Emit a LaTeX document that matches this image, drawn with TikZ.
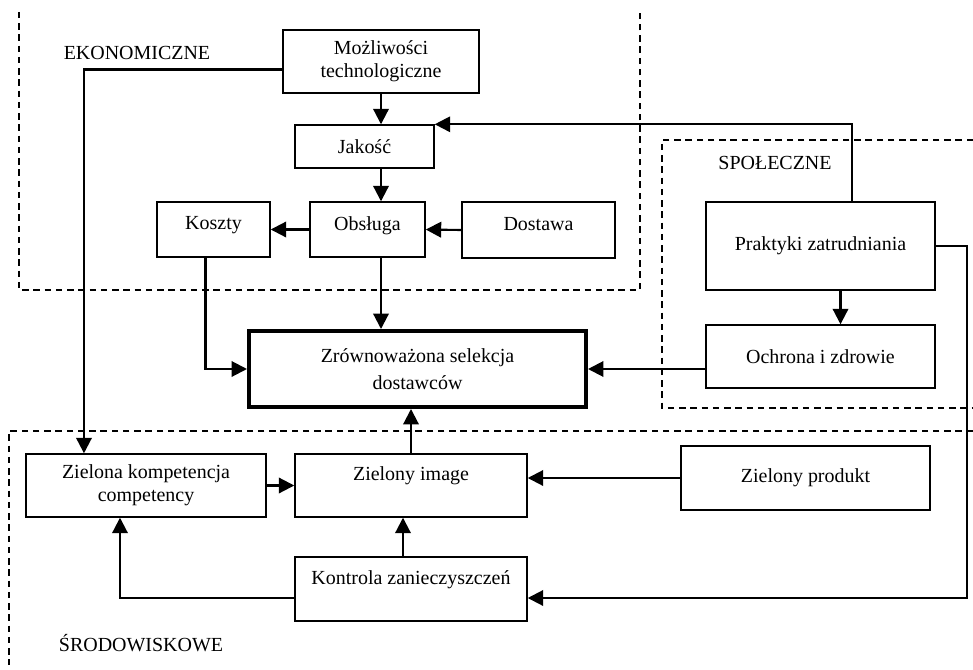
\documentclass[tikz,border=0pt]{standalone}
\usepackage{fontspec}
\setmainfont{Liberation Serif}
\usetikzlibrary{arrows.meta}
\newcommand{\fs}{\fontsize{14.2}{16.5}\selectfont}

\begin{document}
\begin{tikzpicture}[x=0.025cm, y=-0.025cm,
  box/.style={draw, line width=1pt, inner sep=0pt, align=center, font=\fs},
  raised/.style={text depth=9pt},
  arr/.style={-{Triangle[length=11pt,width=11pt]}, line width=1.5pt},
  region/.style={line width=0.8pt, dash pattern=on 4.5pt off 3.5pt},
  lbl/.style={font=\fs}]
  \useasboundingbox (0,0) rectangle (973,670);

  % obszary
  \draw[region] (19,12) -- (19,290) -- (640,290) -- (640,12);
  \draw[region] (973,140) -- (662,140) -- (662,408) -- (973,408);
  \draw[region] (973,431) -- (9,431) -- (9,665);

  \node[lbl] (ekon) at (137,53) {EKONOMICZNE};
  \node[lbl] (spol) at (775,163) {SPOŁECZNE};
  \node[lbl] (srod) at (141,643) {ŚRODOWISKOWE};

  % bloki
  \node[box, minimum width=4.9cm, minimum height=1.575cm] (mozl) at (381,61.5) {Możliwości\\technologiczne};
  \node[box, minimum width=3.475cm, minimum height=1.075cm] (jakosc) at (364.5,146.5) {Jakość};
  \node[box, raised, minimum width=2.825cm, minimum height=1.375cm] (koszty) at (213.5,229.5) {Koszty};
  \node[box, raised, minimum width=2.875cm, minimum height=1.375cm] (obsluga) at (367.5,229.5) {Obsługa};
  \node[box, raised, minimum width=3.825cm, minimum height=1.4cm] (dostawa) at (538.5,230) {Dostawa};
  \node[box, minimum width=5.725cm, minimum height=2.2cm] (praktyki) at (820.5,246) {Praktyki zatrudniania};
  \node[box, minimum width=5.725cm, minimum height=1.575cm] (ochrona) at (820.5,356.5) {Ochrona i zdrowie};
  \node[box, line width=2.8pt, minimum width=8.425cm, minimum height=1.9cm] (central) at (417.5,369) {Zrównoważona selekcja\\[3pt]dostawców};
  \node[box, minimum width=6cm, minimum height=1.575cm] (kompet) at (146,485.5) {Zielona kompetencja\\competency};
  \node[box, minimum width=5.8cm, minimum height=1.575cm] (image) at (411,485.5) {Zielony image\\\mbox{}};
  \node[box, minimum width=6.225cm, minimum height=1.6cm] (produkt) at (805.5,478) {Zielony produkt};
  \node[box, minimum width=5.8cm, minimum height=1.6cm] (kontrola) at (411,589) {Kontrola zanieczyszczeń\\\mbox{}};

  % powiazania
  \coordinate (upturn) at (852,124);
  \coordinate (rightturn) at (967,246);

  \draw[arr] (mozl.south) -- (mozl.south |- jakosc.north);
  \draw[arr] (jakosc.south -| mozl.south) -- (obsluga.north -| mozl.south);
  \draw[arr] (obsluga.west) -- (koszty.east);
  \draw[arr] (dostawa.west) -- (obsluga.east);
  \draw[arr] (obsluga.south -| mozl.south) -- (central.north -| mozl.south);
  \draw[arr] ([xshift=-0.2cm]koszty.south) |- (central.west);
  \draw[arr] (praktyki.north -| upturn) |- (jakosc.north east);
  \draw[arr] ([xshift=0.5cm]praktyki.south) -- ([xshift=0.5cm]ochrona.north);
  \draw[arr] (central.east -| ochrona.west) -- (central.east);
  \draw[arr] (praktyki.east) -- (rightturn) |- ([yshift=-0.225cm]kontrola.east);
  \draw[arr] ([yshift=-0.225cm]kontrola.west) -| ([xshift=-0.65cm]kompet.south);
  \draw[arr] ([yshift=-0.2cm]mozl.west) -| ([xshift=-1.55cm]kompet.north);
  \draw[arr] (kompet.east) -- (image.west);
  \draw[arr] (produkt.west) -- (produkt.west -| image.east);
  \draw[arr] ([xshift=-0.2cm]kontrola.north) -- ([xshift=-0.2cm]image.south);
  \draw[arr] (image.north) -- (image.north |- central.south);
\end{tikzpicture}
\end{document}
